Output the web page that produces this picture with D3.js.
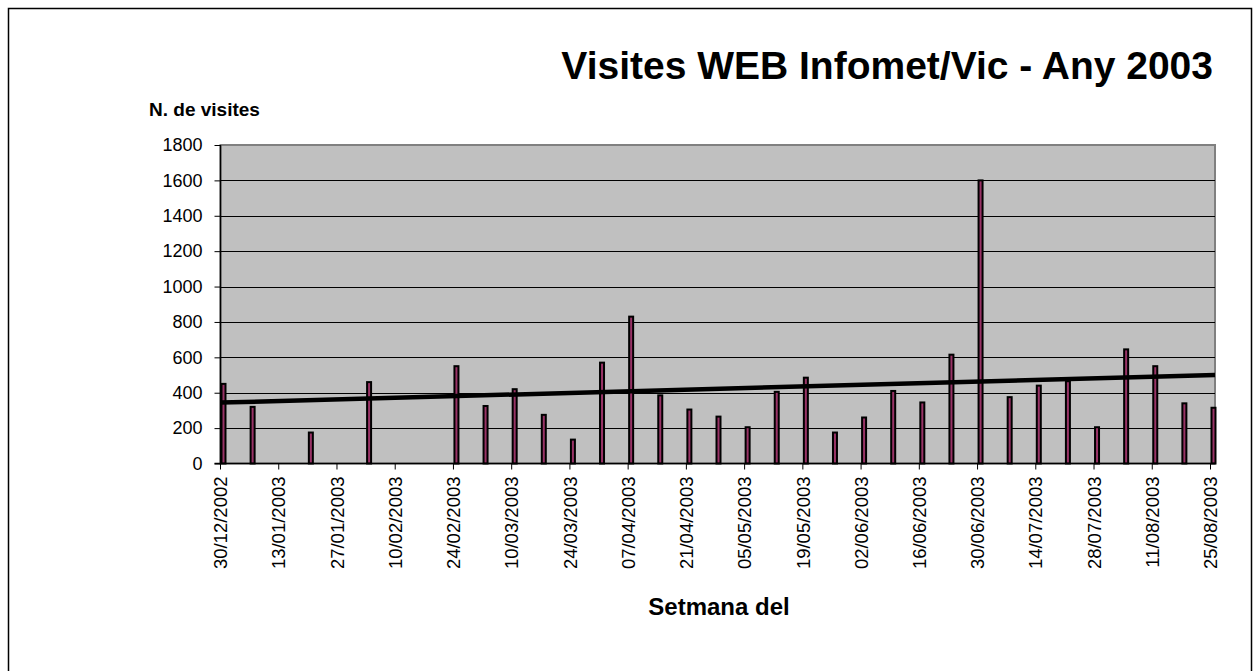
<!DOCTYPE html>
<html>
<head>
<meta charset="utf-8">
<script src="https://cdn.jsdelivr.net/npm/d3@7"></script>
<style>
	body { margin: 0; background: #fff; }
	svg { display: block; font-family: Arial, "Liberation Sans", sans-serif; }
</style>
</head>
<body>
<svg id="chart" width="1253" height="671"></svg>
<script>
// weekly categories (Monday of each week)
var weeks = [
	"30/12/2002", "06/01/2003", "13/01/2003", "20/01/2003", "27/01/2003", "03/02/2003",
	"10/02/2003", "17/02/2003", "24/02/2003", "03/03/2003", "10/03/2003", "17/03/2003",
	"24/03/2003", "31/03/2003", "07/04/2003", "14/04/2003", "21/04/2003", "28/04/2003",
	"05/05/2003", "12/05/2003", "19/05/2003", "26/05/2003", "02/06/2003", "09/06/2003",
	"16/06/2003", "23/06/2003", "30/06/2003", "07/07/2003", "14/07/2003", "21/07/2003",
	"28/07/2003", "04/08/2003", "11/08/2003", "18/08/2003", "25/08/2003"
];
// visits per week (null = no data)
var visits = [
	450, 320, null, 175, null, 460,
	null, null, 550, 325, 420, 275,
	135, 570, 830, 385, 305, 265,
	205, 405, 485, 175, 260, 410,
	345, 615, 1600, 375, 440, 465,
	205, 645, 550, 340, 315
];
var yTicks = [0, 200, 400, 600, 800, 1000, 1200, 1400, 1600, 1800];

var titleText = "Visites WEB Infomet/Vic - Any 2003";
var yTitle = "N. de visites";
var xTitle = "Setmana del";

var svg = d3.select("#chart");

var plot = { left: 220.5, right: 1215, top: 145, bottom: 463.5 };

// outer chart frame
svg.append("rect")
	.attr("x", 8.5).attr("y", 8.5)
	.attr("width", 1243).attr("height", 700)
	.style("fill", "none")
	.style("stroke", "#000")
	.style("stroke-width", 1.5);

var x = d3.scaleLinear()
	.domain([0, weeks.length - 1])
	.range([plot.left, 1210.5]);

var y = d3.scaleLinear()
	.domain([0, 1800])
	.range([plot.bottom, plot.top]);

// plot area
svg.append("rect")
	.attr("x", plot.left).attr("y", plot.top)
	.attr("width", plot.right - plot.left)
	.attr("height", plot.bottom - plot.top)
	.style("fill", "#c0c0c0")
	.style("stroke", "#808080")
	.style("stroke-width", 2);

// gridlines
svg.append("g")
	.selectAll("line")
	.data(yTicks.slice(1, -1))
	.enter().append("line")
	.attr("x1", plot.left).attr("x2", plot.right)
	.attr("y1", function(d) { return Math.round(y(d)) + 0.5; })
	.attr("y2", function(d) { return Math.round(y(d)) + 0.5; })
	.style("stroke", "#000")
	.style("stroke-width", 1);

// y axis
var yAxis = d3.axisLeft(y)
	.tickValues(yTicks)
	.tickSize(6)
	.tickPadding(12)
	.tickFormat(d3.format("d"));
var gy = svg.append("g")
	.attr("transform", "translate(" + plot.left + ",0)")
	.call(yAxis);
gy.select(".domain").remove();
gy.selectAll("text").style("font-size", "18px").style("fill", "#000");
gy.selectAll("line").style("stroke", "#000");

// x axis (ticks every two weeks)
var xIdx = d3.range(0, weeks.length, 2);
var gx = svg.append("g")
	.attr("transform", "translate(0," + plot.bottom + ")");
gx.selectAll("line")
	.data(xIdx)
	.enter().append("line")
	.attr("x1", function(d) { return x(d); })
	.attr("x2", function(d) { return x(d); })
	.attr("y1", 0).attr("y2", 6)
	.style("stroke", "#000");
gx.selectAll("text")
	.data(xIdx)
	.enter().append("text")
	.attr("transform", function(d) { return "translate(" + x(d) + ",13) rotate(-90)"; })
	.attr("dy", "0.36em")
	.attr("text-anchor", "end")
	.style("font-size", "18.5px")
	.text(function(d) { return weeks[d]; });

// bars
var pts = visits.map(function(v, i) { return { i: i, v: v }; })
	.filter(function(d) { return d.v !== null; });

svg.append("g")
	.selectAll("rect")
	.data(pts)
	.enter().append("rect")
	.attr("x", function(d) { return x(d.i) + 1; })
	.attr("y", function(d) { return y(d.v); })
	.attr("width", 4)
	.attr("height", function(d) { return plot.bottom - y(d.v); })
	.style("fill", "#993366")
	.style("stroke", "#000")
	.style("stroke-width", 2);

// axis lines
svg.append("line")
	.attr("x1", plot.left).attr("x2", plot.left)
	.attr("y1", plot.top).attr("y2", plot.bottom)
	.style("stroke", "#000").style("stroke-width", 1.5);
svg.append("line")
	.attr("x1", plot.left - 6).attr("x2", plot.right)
	.attr("y1", plot.bottom).attr("y2", plot.bottom)
	.style("stroke", "#000").style("stroke-width", 1.5);

// linear trendline (least squares over weeks with data)
var mx = d3.mean(pts, function(d) { return d.i; });
var my = d3.mean(pts, function(d) { return d.v; });
var slope = d3.sum(pts, function(d) { return (d.i - mx) * (d.v - my); }) /
	d3.sum(pts, function(d) { return (d.i - mx) * (d.i - mx); });
var icpt = my - slope * mx;
var iEnd = x.invert(plot.right);
svg.append("line")
	.attr("x1", x(0)).attr("y1", y(icpt))
	.attr("x2", x(iEnd)).attr("y2", y(icpt + slope * iEnd))
	.style("stroke", "#000")
	.style("stroke-width", 4.5);

// titles
svg.append("text")
	.attr("x", 1213).attr("y", 79)
	.attr("text-anchor", "end")
	.style("font-size", "39px")
	.style("font-weight", "bold")
	.text(titleText);

svg.append("text")
	.attr("x", 149).attr("y", 116)
	.style("font-size", "19px")
	.style("font-weight", "bold")
	.text(yTitle);

svg.append("text")
	.attr("x", 719).attr("y", 615)
	.attr("text-anchor", "middle")
	.style("font-size", "24px")
	.style("font-weight", "bold")
	.text(xTitle);
</script>
</body>
</html>
